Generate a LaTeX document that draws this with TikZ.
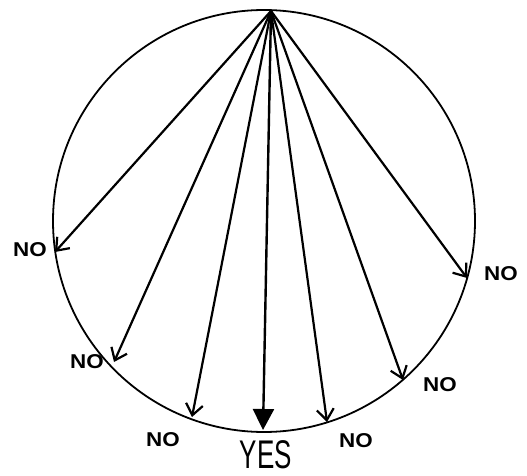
\documentclass[tikz,border=0pt]{standalone}
\usepackage{fontspec}
\setmainfont{Liberation Sans}
\usetikzlibrary{arrows.meta}
\tikzset{
  rim/.style={line width=1.8pt},
  noarrow/.style={line width=2.2pt, -{Straight Barb[length=11pt,width=17pt,line width=2.2pt]}},
  yesarrow/.style={line width=2.4pt, -{Triangle[length=21pt,width=21pt]}},
  nolabel/.style={font=\fontsize{20}{20}\selectfont\bfseries, xscale=1.12, inner sep=0pt},
  yeslabel/.style={font=\fontsize{40}{40}\selectfont, xscale=0.65, inner sep=0pt}
}
\begin{document}
\begin{tikzpicture}[x=1pt,y=-1pt]
\useasboundingbox (0,0) rectangle (527,476);
\draw[rim] (264,221) circle[radius=211];
\coordinate (apex) at (271,11);
\coordinate (e1) at (55,252);
\coordinate (e2) at (114,362);
\coordinate (e3) at (192,417);
\coordinate (e4) at (263,430);
\coordinate (e5) at (327,422);
\coordinate (e6) at (403,380);
\coordinate (e7) at (467,278);
\draw[noarrow] (apex) -- (e1);
\draw[noarrow] (apex) -- (e2);
\draw[noarrow] (apex) -- (e3);
\draw[yesarrow] (apex) -- (e4);
\draw[noarrow] (apex) -- (e5);
\draw[noarrow] (apex) -- (e6);
\draw[noarrow] (apex) -- (e7);
\node[nolabel] (n1) at (30,250) {NO};
\node[nolabel] (n2) at (87,362) {NO};
\node[nolabel] (n3) at (163,440) {NO};
\node[yeslabel] (y) at (266,455) {YES};
\node[nolabel] (n5) at (356,441) {NO};
\node[nolabel] (n6) at (440,385) {NO};
\node[nolabel] (n7) at (501,274) {NO};
\end{tikzpicture}
\end{document}
